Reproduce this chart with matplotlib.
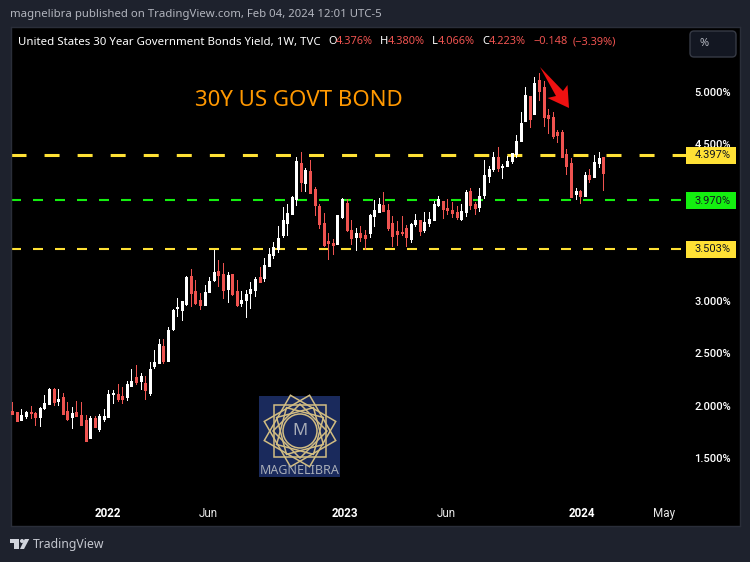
import matplotlib
matplotlib.use('Agg')
import matplotlib.pyplot as plt
import numpy as np
from matplotlib.patches import Circle, FancyBboxPatch, Polygon, Rectangle

plt.rcParams['font.family'] = ['Noto Sans', 'DejaVu Sans']
plt.rcParams['lines.scale_dashes'] = False

opens = [1.953,1.941,1.864,1.902,1.941,1.931,1.893,1.979,2.017,2.161,2.046,2.084,1.950,1.893,1.941,1.912,
         1.864,1.692,1.883,1.778,1.874,1.893,2.113,2.113,2.094,2.084,2.189,2.275,2.237,2.218,2.122,2.380,
         2.409,2.571,2.428,2.734,2.935,2.916,2.973,3.241,3.098,3.011,2.964,3.088,3.203,3.289,3.260,3.117,
         3.260,3.098,2.982,3.011,3.078,3.107,3.231,3.222,3.337,3.441,3.499,3.633,3.747,3.834,3.977,4.321,
         4.130,4.245,4.073,3.910,3.747,3.575,3.556,3.547,3.805,3.939,3.681,3.614,3.652,3.633,3.652,3.814,
         3.853,3.920,3.872,3.747,3.671,3.661,3.700,3.594,3.738,3.776,3.681,3.747,3.776,3.920,3.958,3.891,
         3.872,3.853,3.786,3.853,4.054,3.929,3.901,4.015,4.197,4.264,4.379,4.283,4.293,4.340,4.407,4.532,
         4.723,4.962,4.790,5.115,5.048,4.780,4.761,4.618,4.618,4.407,4.321,4.025,4.054,4.006,4.206,4.187,
         4.321,4.376]
highs = [2.040,1.941,1.969,1.950,1.998,1.941,1.989,2.103,2.170,2.170,2.161,2.122,2.036,1.989,2.046,2.036,
         1.912,1.902,1.902,1.922,1.969,2.151,2.151,2.209,2.180,2.237,2.352,2.390,2.314,2.285,2.419,2.533,
         2.639,2.639,2.753,2.925,3.030,3.002,3.241,3.308,3.203,3.078,3.155,3.231,3.489,3.394,3.365,3.279,
         3.260,3.203,3.098,3.107,3.184,3.231,3.327,3.413,3.509,3.566,3.719,3.900,3.929,4.006,4.378,4.426,
         4.273,4.350,4.092,3.929,3.843,3.652,3.594,3.824,3.986,3.977,3.776,3.700,3.719,3.681,3.834,3.967,
         3.986,4.044,3.929,3.814,3.767,3.814,3.728,3.747,3.834,3.776,3.853,3.853,3.958,4.006,3.958,3.977,
         3.948,3.910,3.929,4.063,4.082,3.948,4.082,4.350,4.293,4.426,4.474,4.312,4.388,4.417,4.589,4.809,
         5.048,4.962,5.143,5.182,5.105,4.838,4.809,4.637,4.637,4.455,4.369,4.082,4.063,4.235,4.264,4.398,
         4.426,4.380]
lows = [1.922,1.855,1.864,1.883,1.883,1.817,1.807,1.969,2.017,2.008,2.008,1.922,1.864,1.788,1.902,1.817,
        1.663,1.692,1.797,1.759,1.855,1.893,2.027,2.046,2.027,2.055,2.189,2.208,2.160,2.065,2.103,2.361,
        2.409,2.409,2.428,2.725,2.858,2.820,2.964,2.954,2.973,2.925,2.964,3.088,3.193,3.145,3.030,2.992,
        3.059,2.954,2.954,2.849,2.935,3.050,3.184,3.193,3.337,3.413,3.470,3.614,3.633,3.834,3.920,4.053,
        4.053,4.034,3.824,3.700,3.528,3.403,3.451,3.547,3.795,3.671,3.547,3.489,3.575,3.499,3.614,3.719,
        3.853,3.862,3.681,3.528,3.537,3.633,3.528,3.566,3.719,3.633,3.661,3.719,3.776,3.910,3.795,3.834,
        3.805,3.786,3.776,3.814,3.881,3.834,3.862,3.987,4.140,4.245,4.245,4.178,4.293,4.321,4.379,4.532,
        4.723,4.665,4.790,4.924,4.675,4.608,4.560,4.522,4.379,4.216,3.996,3.977,3.939,4.006,4.140,4.187,
        4.283,4.066]
closes = [1.922,1.855,1.912,1.941,1.931,1.893,1.979,2.027,2.161,2.036,2.065,1.922,1.874,1.931,1.902,1.817,
          1.663,1.883,1.797,1.902,1.902,2.113,2.122,2.065,2.065,2.209,2.237,2.228,2.285,2.151,2.352,2.419,
          2.591,2.428,2.725,2.916,2.945,3.002,3.231,3.078,2.982,2.964,3.088,3.193,3.279,3.251,3.107,3.251,
          3.069,2.964,3.011,3.069,3.117,3.212,3.184,3.346,3.451,3.518,3.604,3.776,3.843,3.996,4.340,4.139,
          4.254,4.034,3.920,3.738,3.537,3.556,3.537,3.824,3.977,3.681,3.604,3.652,3.614,3.604,3.824,3.872,
          3.929,3.862,3.700,3.623,3.642,3.652,3.614,3.738,3.776,3.671,3.757,3.786,3.929,3.977,3.881,3.872,
          3.843,3.805,3.862,4.044,3.920,3.891,4.006,4.206,4.264,4.379,4.273,4.293,4.340,4.417,4.532,4.704,
          4.971,4.742,5.086,5.010,4.761,4.751,4.579,4.589,4.379,4.293,3.996,4.054,4.006,4.206,4.168,4.331,
          4.369,4.223]

level_vals = [4.397, 3.970, 3.503]
level_cols = ['#ffe135', '#14f010', '#ffe135']
ytick_vals = [1.5, 2.0, 2.5, 3.0, 4.5, 5.0]
xtick_pos = [20.9, 42.9, 72.6, 94.7, 124.4, 142.3]
xtick_labs = ['2022', 'Jun', '2023', 'Jun', '2024', 'May']

BG = '#1e222d'
RED = '#ef5350'
GOLD = '#d2bd82'
NAVY = '#1a2a5c'

fig = plt.figure(figsize=(7.5, 5.62), dpi=100, facecolor=BG)
# pane from x=11..740, y=27..526 in image pixels
ax = fig.add_axes([11/750, 1-526/562, 729/750, 499/562], facecolor='black')
ax.set_xlim((11-12.3)/4.58, (740-12.3)/4.58)
ax.set_ylim(5-(526-92)/104.6, 5+(92-27)/104.6)
for s in ax.spines.values():
    s.set_color('#2a2e39')
    s.set_linewidth(1)

xs = np.arange(len(opens))
cols = ['#ffffff' if c >= o else RED for o, c in zip(opens, closes)]
ax.vlines(xs, lows, highs, colors=cols, lw=0.72, antialiased=False, zorder=3)
# bodies as 3px lines so they stay centred on the wicks
ax.vlines(xs, np.minimum(opens, closes), np.maximum(opens, closes), colors=cols, lw=2.16,
          antialiased=False, capstyle='butt', zorder=3)

frac = (686-11)/729
ax.axhline(level_vals[0], xmax=frac, color=level_cols[0], lw=2.2, ls=(0, (10.8, 13)), dash_capstyle='butt', zorder=2)
ax.axhline(level_vals[1], xmax=frac, color=level_cols[1], lw=1.5, ls=(0, (7.2, 8.64)), dash_capstyle='butt', zorder=2)
ax.axhline(level_vals[2], xmax=frac, color=level_cols[2], lw=1.5, ls=(0, (7.2, 8.64)), dash_capstyle='butt', zorder=2)

ax.yaxis.tick_right()
ax.set_yticks(ytick_vals)
ax.set_yticklabels(['%.3f%%' % v for v in ytick_vals], fontsize=8, color='white', ha='right', family='Roboto', fontweight='medium')
ax.tick_params(axis='y', length=0, pad=-6.5)
ax.set_xticks(xtick_pos)
ax.set_xticklabels(xtick_labs, fontsize=8.4, color='#e8e8e8', family='Roboto')
ax.tick_params(axis='x', length=0, pad=-14)
for t in ax.get_xticklabels():
    if t.get_text().startswith('20'):
        t.set_fontweight('bold')
        t.set_color('white')

# overlay in image pixels for the annotations
ov = fig.add_axes([0, 0, 1, 1], facecolor='none')
ov.set_xlim(0, 750)
ov.set_ylim(562, 0)
ov.axis('off')

ov.text(10, 14, 'magnelibra published on TradingView.com, Feb 04, 2024 12:01 UTC-5', fontsize=8.2,
        color='#b2b5be', va='center')
ov.text(18, 42, 'United States 30 Year Government Bonds Yield, 1W, TVC', fontsize=8.25, color='white', va='center')
for x, lab in [(328, 'O'), (380, 'H'), (432, 'L'), (482, 'C')]:
    ov.text(x, 42, lab, fontsize=8, color='white', va='center')
for x, lab in [(336, '4.376%'), (388, '4.380%'), (438, '4.066%'), (489, '4.223%'), (533, '\u22120.148'), (573, '(\u22123.39%)')]:
    ov.text(x, 42, lab, fontsize=7.9, color=RED, va='center')

ov.add_patch(FancyBboxPatch((692, 33), 42, 22, boxstyle='round,pad=2,rounding_size=4', fc='#131722', ec='#363a45', lw=1))
ov.text(699, 44, '%', fontsize=8, color='#b2b5be', va='center')

ov.text(298.5, 100.5, '30Y US GOVT BOND', fontsize=16, color='#ff9800', ha='center', va='center')

ov.add_patch(Polygon([(540, 67), (563, 91), (567.5, 85), (569, 108), (547.5, 98), (556, 96)], fc='#ee1111', ec='none'))

for y, lab, col in zip([155.5, 200.5, 249.5], ['4.397%', '3.970%', '3.503%'], level_cols):
    ov.add_patch(Rectangle((686, y-8.5), 50, 17, fc=col, ec='none', zorder=5))
    ov.text(731, y, lab, fontsize=8, color='#131722', ha='right', va='center', zorder=6, family='Roboto')

# logo
ov.add_patch(Rectangle((259, 396), 81, 81, fc=NAVY, ec='none'))
cx, cy = 300, 431
for r, rots in [(37, [0, 30, 60]), (27, [15, 45, 75])]:
    for rot in rots:
        a = np.radians(rot + np.array([45, 135, 225, 315]))
        ov.add_patch(Polygon(np.c_[cx+r*np.cos(a), cy+r*np.sin(a)], fill=False, ec=GOLD, lw=1.1))
ov.add_patch(Circle((cx, cy), 17, fc=NAVY, ec=GOLD, lw=1.1))
ov.text(cx, cy, 'M', fontsize=12, color='#a9aeb8', ha='center', va='center')
ov.text(cx, 471, 'MAGNELIBRA', fontsize=9, color='#a9aeb8', ha='center', va='center')

# footer mark
ov.add_patch(Polygon([(10, 539), (19, 539), (19, 549), (14, 549), (14, 543), (10, 543)], fc='#d1d4dc', ec='none'))
ov.add_patch(Circle((22, 541), 2, fc='#d1d4dc', ec='none'))
ov.add_patch(Polygon([(24.7, 539), (29.3, 539), (24, 549), (20, 549)], fc='#d1d4dc', ec='none'))
ov.text(33, 544.5, 'TradingView', fontsize=8.8, color='#c4c7cf', va='center')

fig.savefig('out.png', dpi=100, facecolor=BG)
